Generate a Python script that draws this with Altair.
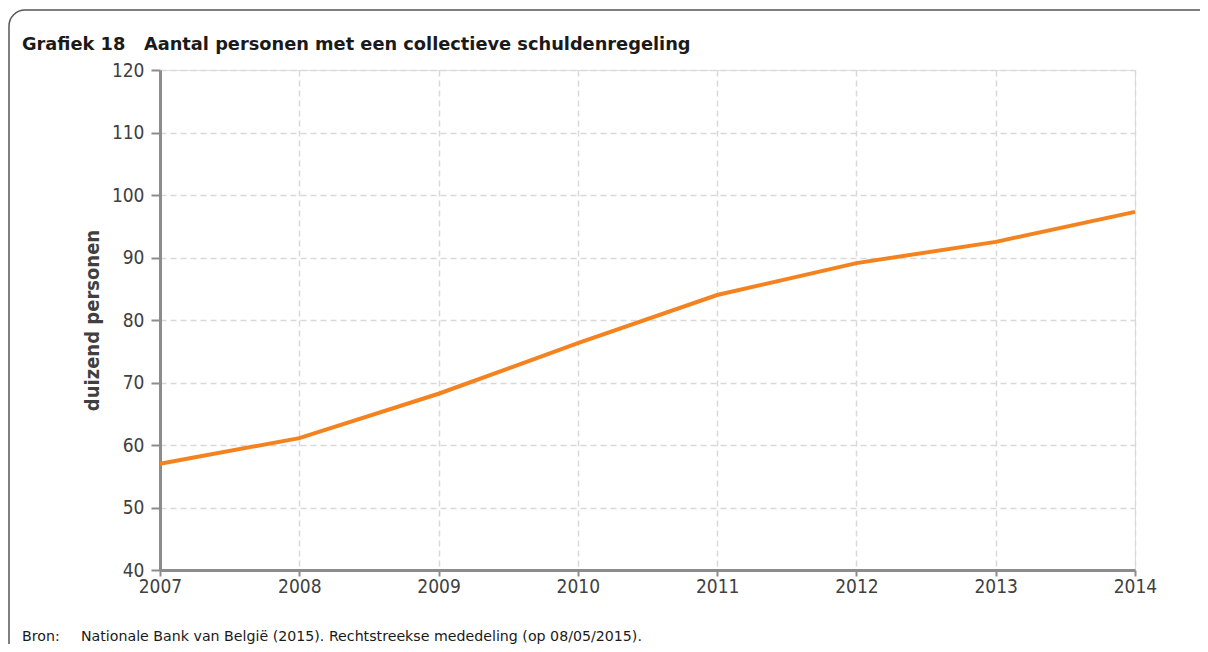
import altair as alt
import pandas as pd

years = [2007, 2008, 2009, 2010, 2011, 2012, 2013, 2014]
persons = [57.0, 61.1, 68.2, 76.3, 84.0, 89.1, 92.5, 97.3]
y_ticks = [40, 50, 60, 70, 80, 90, 100, 110, 120]
title_text = "Grafiek 18\u00a0\u00a0\u00a0Aantal personen met een collectieve schuldenregeling"
y_title = "duizend personen"
source_label = "Bron:"
source_text = "Nationale Bank van België (2015). Rechtstreekse mededeling (op 08/05/2015)."

FONT = "DejaVu Sans Condensed, DejaVu Sans, sans-serif"
FONT_W = "DejaVu Sans, sans-serif"
PAD_L, PAD_T = 152, 62
W, H = 975, 500
SVG_W, SVG_H = 1192, 636

df = pd.DataFrame({"jaar": years, "personen": persons})

line = alt.Chart(df).mark_line(color="#F4821F", strokeWidth=4).encode(
    x=alt.X(
        "jaar:Q",
        scale=alt.Scale(domain=[years[0], years[-1]], nice=False, zero=False),
        axis=alt.Axis(
            values=years, format="d", title=None, grid=True, labelFlush=False,
            gridDash=[6, 4], gridColor="#d9d9d9", gridWidth=1.5,
            domainColor="#8c8c8c", domainWidth=3,
            tickColor="#8c8c8c", tickSize=6, tickWidth=2,
            labelPadding=1, labelFontSize=19, labelColor="#404040", labelFont=FONT,
        ),
    ),
    y=alt.Y(
        "personen:Q",
        scale=alt.Scale(domain=[y_ticks[0], y_ticks[-1]], nice=False, zero=False),
        axis=alt.Axis(
            values=y_ticks, title=y_title, grid=True, labelFlush=False,
            gridDash=[6, 4], gridColor="#d9d9d9", gridWidth=1.5,
            domainColor="#8c8c8c", domainWidth=3,
            tickColor="#8c8c8c", tickSize=9, tickWidth=2,
            labelPadding=7, labelFontSize=19, labelColor="#404040", labelFont=FONT,
            titleFont=FONT, titleFontSize=20, titleColor="#404040", titleFontWeight="bold",
            titlePadding=9,
        ),
    ),
)

one = alt.Data(values=[{"k": 1}])

border = alt.Chart(one).mark_rect(
    fillOpacity=0, stroke="#555555", strokeWidth=1.5, cornerRadius=16
).encode(
    x=alt.value(9 - 160), x2=alt.value(1150), y=alt.value(10 - 70), y2=alt.value(700)
)

title = alt.Chart(one).mark_text(
    align="left", baseline="alphabetic", fontSize=17.8, fontWeight="bold", font=FONT_W, color="#1a1a1a"
).encode(x=alt.value(22 - 160), y=alt.value(50 - 70), text=alt.value(title_text))

src1 = alt.Chart(one).mark_text(
    align="left", baseline="alphabetic", fontSize=14.2, font=FONT_W, color="#1a1a1a"
).encode(x=alt.value(22 - 160), y=alt.value(641 - 70), text=alt.value(source_label))

src2 = alt.Chart(one).mark_text(
    align="left", baseline="alphabetic", fontSize=14.2, font=FONT_W, color="#1a1a1a"
).encode(x=alt.value(81 - 160), y=alt.value(641 - 70), text=alt.value(source_text))

chart = alt.layer(border, line, title, src1, src2).properties(
    width=W, height=H,
    autosize=alt.AutoSizeParams(type="none"),
    padding={"left": PAD_L, "top": PAD_T, "right": SVG_W - PAD_L - W, "bottom": SVG_H - PAD_T - H},
).configure_view(stroke="#8c8c8c", strokeWidth=3).configure(background="white")

chart.save("out.html", embed_options={"renderer": "svg", "actions": False})
